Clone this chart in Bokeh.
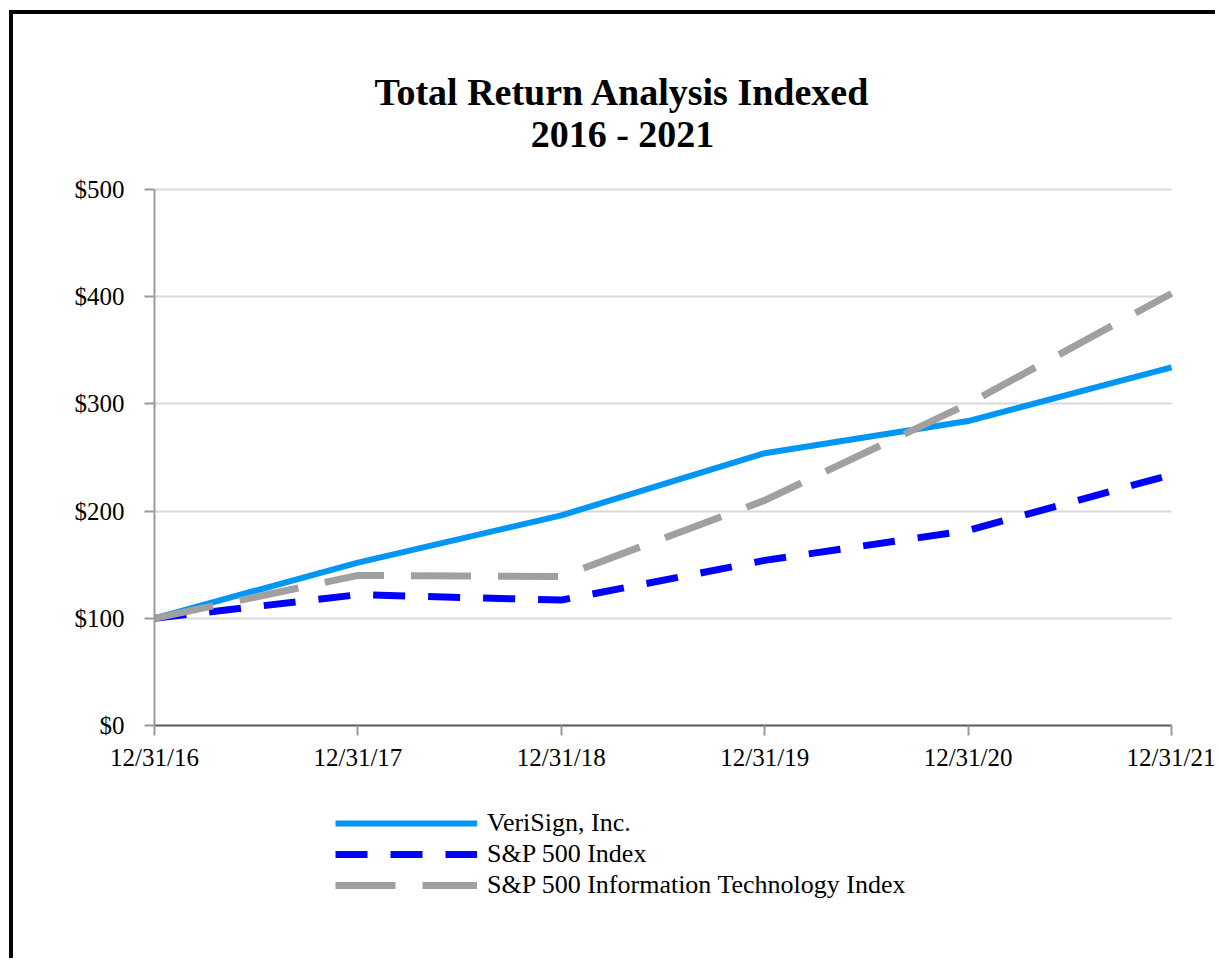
from bokeh.plotting import figure
from bokeh.models import Legend, LegendItem, FixedTicker, Range1d, Label
from bokeh.embed import file_html
from bokeh.resources import INLINE

# ---- data ----
periods = [0, 1, 2, 3, 4, 5]
period_labels = ["12/31/16", "12/31/17", "12/31/18", "12/31/19", "12/31/20", "12/31/21"]
verisign = [100, 152, 196, 254, 284, 334]
sp500 = [100, 122, 117, 154, 182, 234]
sp500_it = [100, 140, 139, 210, 300, 403]
y_ticks = [0, 100, 200, 300, 400, 500]
y_tick_labels = ["$0", "$100", "$200", "$300", "$400", "$500"]
series_names = ["VeriSign, Inc.", "S&P 500 Index", "S&P 500 Information Technology Index"]
title_lines = ["Total Return Analysis Indexed", "2016 - 2021"]

FONT = "Liberation Serif"

# ---- layout (pixels, page coordinates) ----
W, H = 1206, 948            # canvas; canvas origin on the page is (13, 14)
OX, OY = 13, 14
FL, FT, FR, FB = 40, 40, 0, 55
AX_LEFT, AX_RIGHT = 154, 1171   # page x of first / last period
AX_TOP, AX_ZERO = 189, 725      # page y of $500 / $0
PX_PER_PERIOD = (AX_RIGHT - AX_LEFT) / (periods[-1] - periods[0])
PX_PER_UNIT = (AX_ZERO - AX_TOP) / (y_ticks[-1] - y_ticks[0])

frame_left, frame_right = OX + FL, OX + W - FR
frame_top, frame_bottom = OY + FT, OY + H - FB
x_start = periods[0] - (AX_LEFT - frame_left) / PX_PER_PERIOD
x_end = periods[0] + (frame_right - AX_LEFT) / PX_PER_PERIOD
y_end = (AX_ZERO - frame_top) / PX_PER_UNIT
y_start = -(frame_bottom - AX_ZERO) / PX_PER_UNIT

p = figure(width=W, height=H, output_backend="svg", toolbar_location=None,
           x_range=Range1d(x_start, x_end), y_range=Range1d(y_start, y_end),
           min_border_left=FL, min_border_top=FT,
           min_border_right=FR, min_border_bottom=FB)
p.title.text = ""
p.outline_line_color = None
p.background_fill_color = "white"
p.border_fill_color = "white"
p.styles = {"border-left": "4px solid black", "border-top": "4px solid black"}
p.margin = (10, 0, 0, 9)

# axes (pinned at x=0 / y=0, limited to the data extent)
p.xaxis.ticker = FixedTicker(ticks=periods)
p.xaxis.major_label_overrides = {i: s for i, s in zip(periods, period_labels)}
p.xaxis.fixed_location = 0
p.xaxis.bounds = (periods[0], periods[-1])
p.yaxis.ticker = FixedTicker(ticks=y_ticks)
p.yaxis.major_label_overrides = {v: s for v, s in zip(y_ticks, y_tick_labels)}
p.yaxis.fixed_location = periods[0]
p.yaxis.bounds = (y_ticks[0], y_ticks[-1])
for ax in (p.xaxis, p.yaxis):
    ax.major_label_text_font = FONT
    ax.major_label_text_font_size = "25px"
    ax.major_label_text_color = "black"
    ax.minor_tick_line_color = None
    ax.major_tick_in = 0
    ax.major_tick_out = 10
    ax.major_tick_line_color = "#9a9a9a"
    ax.major_tick_line_width = 2
    ax.axis_line_width = 2
p.yaxis.axis_line_color = "#9a9a9a"
p.xaxis.axis_line_color = "#5f5f5f"
p.yaxis.major_label_standoff = 20
p.xaxis.major_label_standoff = 8

p.xgrid.grid_line_color = None
p.ygrid.grid_line_color = "#d9d9d9"
p.ygrid.grid_line_width = 2
p.ygrid.cross_bounds = (periods[0], periods[-1])

# lines
r_sp = p.line(periods, sp500, line_color="#0000FF", line_width=7, line_dash="32 23")
r_vs = p.line(periods, verisign, line_color="#0096F5", line_width=6)
r_it = p.line(periods, sp500_it, line_color="#A0A0A0", line_width=7, line_dash="60 27")

# legend (below the chart, inside the extended frame)
legend = Legend(items=[LegendItem(label=series_names[0], renderers=[r_vs]),
                       LegendItem(label=series_names[1], renderers=[r_sp]),
                       LegendItem(label=series_names[2], renderers=[r_it])],
                location=(335 - frame_left, frame_bottom - 900), orientation="vertical",
                glyph_width=142, glyph_height=30, label_height=30, spacing=1,
                label_standoff=10, padding=0, margin=0,
                label_text_font=FONT, label_text_font_size="26px",
                label_text_color="black", border_line_color=None,
                background_fill_alpha=0)
p.add_layout(legend, "center")

# title
for txt, base_px in zip(title_lines, [91, 133]):
    p.add_layout(Label(x=(622 - AX_LEFT) / PX_PER_PERIOD, y=(AX_ZERO - base_px) / PX_PER_UNIT,
                       text=txt, text_font=FONT, text_font_size="38px",
                       text_font_style="bold", text_align="center",
                       text_baseline="alphabetic", text_color="black"))

open("out.html", "w").write(file_html(p, INLINE))
